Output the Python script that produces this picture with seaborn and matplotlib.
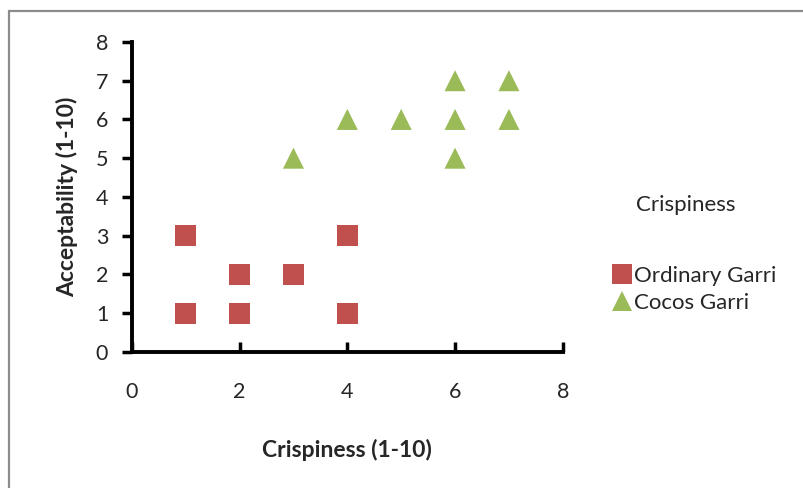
import matplotlib
matplotlib.use("Agg")
import matplotlib.pyplot as plt
from matplotlib.lines import Line2D
from matplotlib.patches import Rectangle
import pandas as pd
import seaborn as sns

# Sensory scores (1-10 scale)
ordinary_crisp = [1, 1, 2, 2, 3, 4, 4]
ordinary_accept = [3, 1, 2, 1, 2, 3, 1]
cocos_crisp = [3, 4, 5, 6, 6, 6, 7, 7]
cocos_accept = [5, 6, 6, 7, 6, 5, 7, 6]
series_names = ["Ordinary Garri", "Cocos Garri"]
x_ticks = [0, 2, 4, 6, 8]
y_ticks = [0, 1, 2, 3, 4, 5, 6, 7, 8]

df = pd.DataFrame({
    "Crispiness": ordinary_crisp + cocos_crisp,
    "Acceptability": ordinary_accept + cocos_accept,
    "Sample": [series_names[0]] * len(ordinary_crisp) + [series_names[1]] * len(cocos_crisp),
})

sns.set_theme(style="white")
plt.rcParams["font.family"] = ["Lato", "DejaVu Sans"]

colors = {series_names[0]: "#C0504D", series_names[1]: "#9BBB59"}
markers = {series_names[0]: "s", series_names[1]: "^"}

fig = plt.figure(figsize=(8.04, 4.88), dpi=100)
ax = fig.add_axes([0.164, 0.279, 0.536, 0.635])

sns.scatterplot(data=df, x="Crispiness", y="Acceptability", hue="Sample", style="Sample",
                palette=colors, markers=markers, s=230, linewidth=0, ax=ax, legend=False)

ax.set_xlim(0, 8)
ax.set_ylim(0, 8)
ax.set_xticks(x_ticks)
ax.set_yticks(y_ticks)
ax.tick_params(axis="x", direction="in", length=7, width=2.5, color="black",
               labelsize=15.5, pad=22, bottom=True)
ax.tick_params(axis="y", direction="out", length=7, width=2.5, color="black",
               labelsize=15.5, pad=10, left=True)
for side in ("top", "right"):
    ax.spines[side].set_visible(False)
for side in ("left", "bottom"):
    ax.spines[side].set_color("black")
    ax.spines[side].set_linewidth(2.8)

ax.set_xlabel("Crispiness (1-10)", fontsize=16.5, fontweight="bold", labelpad=26)
ax.set_ylabel("Acceptability (1-10)", fontsize=16.5, fontweight="bold", labelpad=13)

handles = [Line2D([], [], linestyle="none", marker=markers[n], markersize=14,
                  markerfacecolor=colors[n], markeredgewidth=0) for n in series_names]
fig.legend(handles, series_names, loc="upper left", bbox_to_anchor=(0.747, 0.473),
           frameon=False, fontsize=16, handletextpad=0.0, labelspacing=0.3,
           handlelength=1.1, borderaxespad=0)
fig.text(0.791, 0.58, "Crispiness", fontsize=16, ha="left", va="center")

# Chart area border (left and top edges visible)
fig.patches.append(Rectangle((9 / 804, -0.05), 1.1, 1 - 11 / 488 + 0.05,
                             transform=fig.transFigure, fill=False,
                             edgecolor="#8c8c8c", linewidth=1.6))

fig.savefig("out.png", dpi=100)
